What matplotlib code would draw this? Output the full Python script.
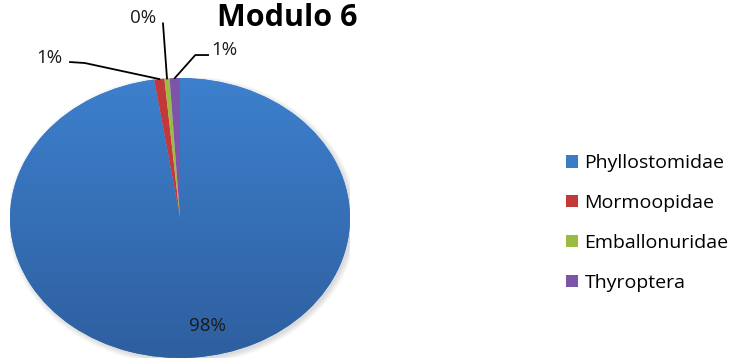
import matplotlib.pyplot as plt
import numpy as np
from matplotlib.colors import LinearSegmentedColormap
from matplotlib.patches import Ellipse

families = ['Phyllostomidae', 'Mormoopidae', 'Emballonuridae', 'Thyroptera']
counts = [200, 2, 1, 2]
colors = ['#3a7cc8', '#c3393a', '#9bbb45', '#7d55a8']

# label positions (data coords) and leader line bends for the small slices
label_xy = [(0.16, -0.77), (-0.77, 1.14), (-0.22, 1.43), (0.26, 1.20)]
bends = [None, [(-0.647, 1.114), (-0.56, 1.107)], [(-0.10, 1.39)], [(0.165, 1.164), (0.09, 1.164)]]

total = sum(counts)
pcts = ['%d%%' % round(100 * c / total) for c in counts]

fig = plt.figure(figsize=(7.35, 3.64), dpi=100)
ax = fig.add_axes([10 / 735, 6 / 364, 340 / 735, 280 / 364])

# soft shadow under the pie
for i in range(6):
    ax.add_patch(Ellipse((0.012, -0.015), 2 + 0.012 * i, 2 + 0.014 * i,
                         facecolor='black', alpha=0.025, linewidth=0, zorder=0))

wedges, _ = ax.pie(counts, colors=colors, startangle=90, counterclock=False,
                   radius=1, wedgeprops=dict(linewidth=0))

# vertical gradient on the big slice
grad = np.linspace(0, 1, 256).reshape(-1, 1)
cmap = LinearSegmentedColormap.from_list('blue', ['#3d80cd', '#2e5f9f'])
ax.imshow(grad, extent=(-1, 1, -1, 1), cmap=cmap, aspect='auto', origin='upper',
          clip_path=wedges[0], zorder=wedges[0].get_zorder() + 0.1)

ax.set_aspect('auto')
ax.set_xlim(-1, 1)
ax.set_ylim(-1, 1)
ax.axis('off')

for i, w in enumerate(wedges):
    x, y = label_xy[i]
    ax.text(x, y, pcts[i], ha='center', va='center', fontsize=13.5,
            family='Open Sans', color='#1a1a1a', zorder=5, clip_on=False)
    if bends[i] is None:
        continue
    t = np.deg2rad((w.theta1 + w.theta2) / 2)
    pts = bends[i] + [(np.cos(t), np.sin(t))]
    ax.plot([p[0] for p in pts], [p[1] for p in pts], color='black', lw=1.3,
            zorder=5, clip_on=False)

fig.text(287 / 735, 1 - 26 / 364, 'Modulo 6', ha='center', va='baseline',
         fontsize=22, fontweight='bold', family='Open Sans')

fig.legend(wedges, families, loc='center left', bbox_to_anchor=(566 / 735, 1 - 223 / 364),
           frameon=False, prop={'family': 'Open Sans', 'size': 14},
           handlelength=0.6, handleheight=0.6, handletextpad=0.35, labelspacing=1.12,
           borderpad=0, borderaxespad=0)

fig.savefig('out.png', dpi=100)
